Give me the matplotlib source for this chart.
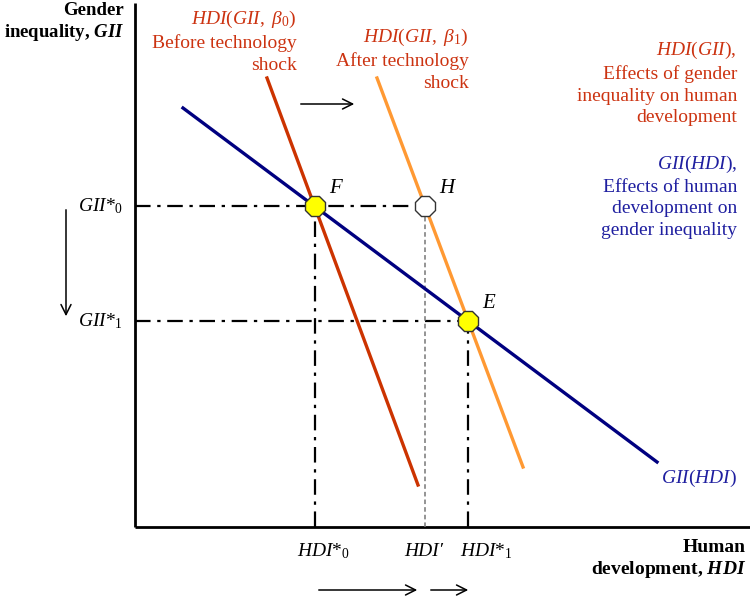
import matplotlib
matplotlib.use("Agg")
import matplotlib.pyplot as plt
import numpy as np

plt.rcParams.update({
    "font.family": "Liberation Serif",
    "mathtext.fontset": "custom",
    "mathtext.rm": "Liberation Serif",
    "mathtext.it": "Liberation Serif:italic",
    "mathtext.bf": "Liberation Serif:italic:bold",
})

NAVY = "#000080"
RED = "#cc3300"
ORANGE = "#ff9933"
RED_TXT = "#cc3311"
BLUE_TXT = "#1f1fa0"

# conceptual curves (HDI, GII) endpoints
gii_hdi_x = [48, 522]      # GII(HDI)
gii_hdi_y = [419, 65]
hdi_b0_x = [132, 283]      # HDI(GII, beta0)
hdi_b0_y = [449, 42]
hdi_b1_x = [242, 388]      # HDI(GII, beta1)
hdi_b1_y = [449, 60]


def line_coef(xs, ys):
    m = (ys[1] - ys[0]) / (xs[1] - xs[0])
    return m, ys[0] - m * xs[0]


def intersect(a, b):
    m1, c1 = line_coef(*a)
    m2, c2 = line_coef(*b)
    x = (c2 - c1) / (m1 - m2)
    return x, m1 * x + c1


blue = (gii_hdi_x, gii_hdi_y)
red = (hdi_b0_x, hdi_b0_y)
orange = (hdi_b1_x, hdi_b1_y)
Fx, Fy = intersect(blue, red)
Ex, Ey = intersect(blue, orange)
mo, co = line_coef(*orange)
Hx, Hy = (Fy - co) / mo, Fy

fig = plt.figure(figsize=(7.5, 5.97), dpi=100)
ax = fig.add_axes([0, 0, 1, 1])
ax.set_xlim(-135, 615)
ax.set_ylim(-70, 527)
ax.axis("off")

# axes
ax.plot([0, 0], [0, 524], color="black", lw=2, solid_capstyle="butt")
ax.plot([0, 615], [0, 0], color="black", lw=2, solid_capstyle="butt")

# guide lines
dd = dict(color="black", lw=1.6, linestyle=(0, (7, 3, 1.5, 3)))
ax.plot([0, Hx], [Fy, Fy], **dd)
ax.plot([0, Ex], [Ey, Ey], **dd)
ax.plot([Fx, Fx], [0, Fy], **dd)
ax.plot([Ex, Ex], [0, Ey], **dd)
ax.plot([Hx, Hx], [0, Hy], color="#777777", lw=1.1, linestyle=(0, (3, 2)))

# curves
ax.plot(gii_hdi_x, gii_hdi_y, color=NAVY, lw=2.4)
ax.plot(hdi_b0_x, hdi_b0_y, color=RED, lw=2.4)
ax.plot(hdi_b1_x, hdi_b1_y, color=ORANGE, lw=2.4)

# points
mk = dict(marker="8", markersize=15, markeredgecolor="#333333", markeredgewidth=1, zorder=5)
ax.plot(Fx, Fy, markerfacecolor="#ffff00", **mk)
ax.plot(Ex, Ey, markerfacecolor="#ffff00", **mk)
ax.plot(Hx, Hy, markerfacecolor="white", **mk)
fs = 14
ax.text(Fx + 14, Fy + 8, "$F$", fontsize=15, va="bottom")
ax.text(Hx + 14, Hy + 8, "$H$", fontsize=15, va="bottom")
ax.text(Ex + 14, Ey + 8, "$E$", fontsize=15, va="bottom")

# arrows
arr = dict(arrowstyle="->", color="black", lw=1.1, mutation_scale=18)
ax.annotate("", xy=(222, 423), xytext=(163, 423), arrowprops=arr)
ax.annotate("", xy=(-69, 208), xytext=(-69, 320), arrowprops=arr)
ax.annotate("", xy=(285, -63), xytext=(181, -63), arrowprops=arr)
ax.annotate("", xy=(336, -63), xytext=(293, -63), arrowprops=arr)

# axis value labels
ax.text(-57, Fy, "$GII$*$_0$", fontsize=fs, ha="left", va="center")
ax.text(-57, Ey, "$GII$*$_1$", fontsize=fs, ha="left", va="center")
ax.text(162, -24, "$HDI$*$_0$", fontsize=fs, ha="left", va="center")
ax.text(269, -24, "HDI\u2032", fontsize=fs, fontstyle="italic", ha="left", va="center")
ax.text(325, -24, "$HDI$*$_1$", fontsize=fs, ha="left", va="center")

# axis titles
ax.text(-11, 525, "Gender\ninequality, $\\mathbf{GII}$", fontsize=13.5, fontweight="bold",
        ha="right", va="top", linespacing=1.2)
ax.text(611, -12, "Human\ndevelopment, $\\mathbf{HDI}$", fontsize=fs, fontweight="bold",
        ha="right", va="top", linespacing=1.2)

# curve annotations
ls = 1.32
ax.text(162, 518, "$HDI(GII,\\ \\beta_0)$\nBefore technology\nshock", fontsize=fs,
        color=RED_TXT, ha="right", va="top", linespacing=ls)
ax.text(334, 500, "$HDI(GII,\\ \\beta_1)$\nAfter technology\nshock", fontsize=fs,
        color=RED_TXT, ha="right", va="top", linespacing=ls)
ax.text(602, 487, "$HDI$($GII$),\nEffects of gender\ninequality on human\ndevelopment",
        fontsize=fs, color=RED_TXT, ha="right", va="top", linespacing=ls)
ax.text(602, 373, "$GII$($HDI$),\nEffects of human\ndevelopment on\ngender inequality",
        fontsize=fs, color=BLUE_TXT, ha="right", va="top", linespacing=ls)
ax.text(602, 49, "$GII$($HDI$)", fontsize=fs, color=BLUE_TXT, ha="right", va="center")

fig.savefig("out.png", dpi=100)
